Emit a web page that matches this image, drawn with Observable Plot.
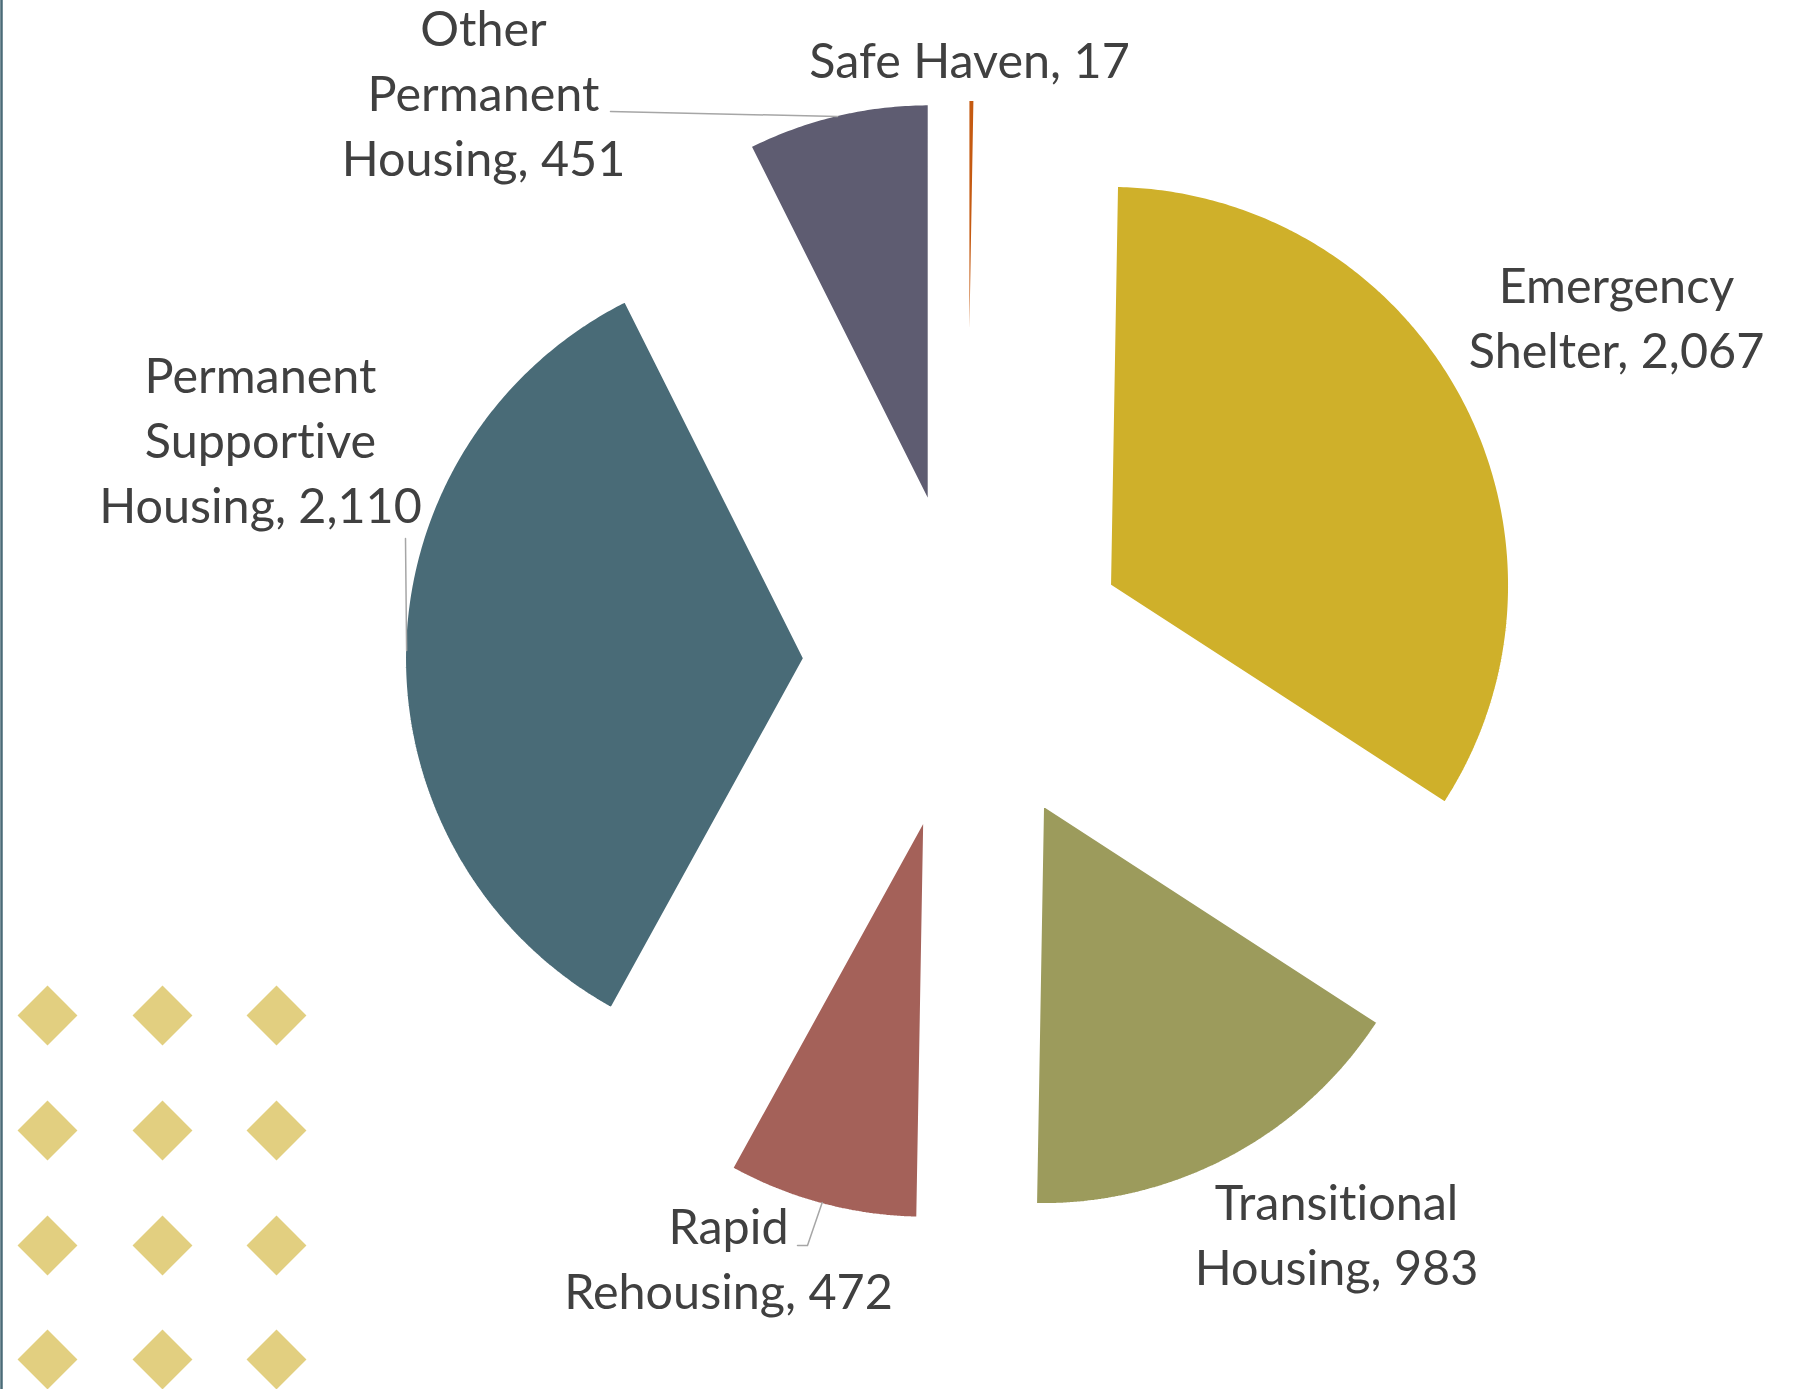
<!DOCTYPE html>
<html>
<head>
<meta charset="utf-8">
<script src="https://cdn.jsdelivr.net/npm/d3@7"></script>
<script src="https://cdn.jsdelivr.net/npm/@observablehq/plot@0.6"></script>
<style>
  html, body { margin: 0; padding: 0; background: #ffffff; }
  #chart svg { display: block; }
  #chart text { font-variant-ligatures: none; font-feature-settings: "liga" 0, "clig" 0; }
</style>
</head>
<body>
<div id="chart"></div>
<script>
// ---- data ----
const categories = ["Safe Haven", "Emergency Shelter", "Transitional Housing", "Rapid Rehousing", "Permanent Supportive Housing", "Other Permanent Housing"];
const values = [17, 2067, 983, 472, 2110, 451];
const labelLines = [
  ["Safe Haven, 17"],
  ["Emergency", "Shelter, 2,067"],
  ["Transitional", "Housing, 983"],
  ["Rapid", "Rehousing, 472"],
  ["Permanent", "Supportive", "Housing, 2,110"],
  ["Other", "Permanent", "Housing, 451"]
];
const colors = ["#C55A11", "#CFB02A", "#9C9B5C", "#A46159", "#496B77", "#5E5C71"];

// ---- layout ----
const W = 1793, H = 1389;
const cx = 966, cy = 661, R = 400, explode = 162;
// label centres relative to pie centre
const labelOffset = [[3, -604], [650, -347], [370, 570], [-238, 594], [-706, -224], [-483, -571]];
// leader line end points (label side) relative to pie centre
const leaderEnd = [null, null, null, [[-159, 584], [-169, 584]], [[-561, -123]], [[-356, -550]]];
const diamondCols = [47, 162, 276];
const diamondRows = [1015, 1130, 1245, 1359];

// ---- geometry from data ----
const total = d3.sum(values);
let acc = 0;
const slices = categories.map((name, i) => {
  const a0 = acc / total * 2 * Math.PI;
  acc += values[i];
  const a1 = acc / total * 2 * Math.PI;
  const mid = (a0 + a1) / 2;
  const ax = cx + explode * Math.sin(mid), ay = cy - explode * Math.cos(mid);
  return {name, i, a0, a1, mid, ax, ay};
});

const slicePts = [];
for (const s of slices) {
  slicePts.push({name: s.name, x: s.ax, y: s.ay});
  const n = Math.max(4, Math.ceil((s.a1 - s.a0) / (Math.PI / 360)));
  for (let k = 0; k <= n; k++) {
    const a = s.a0 + (s.a1 - s.a0) * k / n;
    slicePts.push({name: s.name, x: s.ax + R * Math.sin(a), y: s.ay - R * Math.cos(a)});
  }
  slicePts.push({name: s.name, x: s.ax, y: s.ay});
}

const leaderPts = [];
slices.forEach((s, i) => {
  if (!leaderEnd[i]) return;
  leaderPts.push({name: s.name, x: s.ax + (R - 2) * Math.sin(s.mid), y: s.ay - (R - 2) * Math.cos(s.mid)});
  for (const [dx, dy] of leaderEnd[i]) leaderPts.push({name: s.name, x: cx + dx, y: cy + dy});
});

const labels = slices.map((s, i) => ({
  name: s.name,
  text: labelLines[i].join("\n"),
  x: cx + labelOffset[i][0],
  y: cy + labelOffset[i][1]
}));

const diamonds = [];
for (const y of diamondRows) for (const x of diamondCols) diamonds.push({x, y});

const chart = Plot.plot({
  width: W,
  height: H,
  margin: 0,
  x: {domain: [0, W], range: [0, W], axis: null},
  y: {domain: [0, H], range: [0, H], axis: null},
  color: {domain: categories, range: colors},
  style: {background: "#ffffff", fontFamily: "Lato, sans-serif", overflow: "visible"},
  marks: [
    Plot.ruleX([1], {stroke: "#4A6B77", strokeWidth: 2.5}),
    Plot.dot(diamonds, {x: "x", y: "y", symbol: "square", rotate: 45, r: 23.9, fill: "#E2CF80", stroke: "none"}),
    Plot.line(slicePts, {x: "x", y: "y", z: "name", fill: "name", stroke: "white", strokeWidth: 3, strokeLinejoin: "miter", curve: "linear"}),
    Plot.line(leaderPts, {x: "x", y: "y", z: "name", stroke: "#A6A6A6", strokeWidth: 1.5}),
    Plot.text(labels, {x: "x", y: "y", text: "text", fontSize: 48.5, lineHeight: 1.34, fill: "#404040", textAnchor: "middle", lineAnchor: "middle"})
  ]
});
document.getElementById("chart").append(chart);
</script>
</body>
</html>
